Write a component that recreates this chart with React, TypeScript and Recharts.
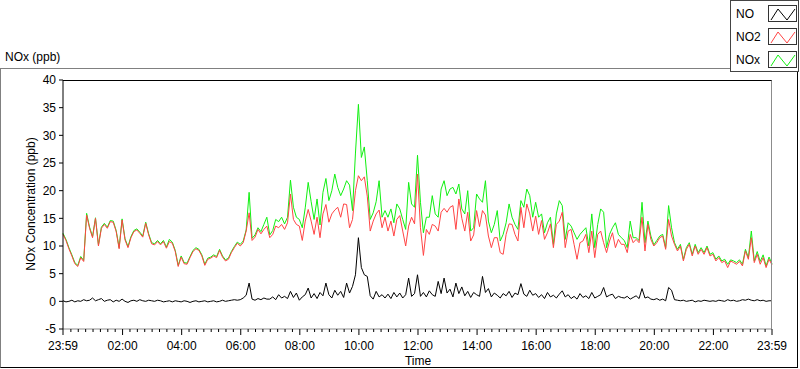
import { LineChart, Line, XAxis, YAxis } from 'recharts';

// one reading every 6 minutes, starting at 23:59
const NO = [
  0.1, -0.1, 0.0, 0.2, -0.1, 0.1, 0.0, 0.3, 0.1, 0.2,
  0.6, 0.1, 0.3, 0.5, 0.0, 0.2, 0.3, -0.1, 0.2, 0.0,
  0.4, 0.0, -0.2, 0.1, 0.2, 0.0, 0.3, 0.1, 0.0, 0.2,
  0.1, 0.0, 0.2, 0.1, -0.1, 0.0, 0.1, -0.1, 0.1, 0.0,
  -0.1, 0.1, 0.0, -0.2, 0.0, 0.1, -0.1, 0.0, 0.1, -0.1,
  0.0, 0.1, -0.1, 0.0, 0.2, 0.0, 0.1, 0.2, 0.3, 0.2,
  0.3, 0.6, 1.1, 3.3, 0.4, 0.2, 0.5, 0.3, 0.6, 0.4,
  0.4, 0.8, 0.3, 1.2, 0.6, 0.9, 0.5, 1.8, 0.7, 1.5,
  0.2, 0.8, 1.2, 2.4, 0.6, 1.4, 0.5, 1.6, 1.0, 3.3,
  1.2, 0.6, 2.0, 1.1, 1.8, 0.7, 3.3, 1.5, 2.7, 4.8,
  11.5, 6.1, 4.8, 4.5, 1.0, 0.4, 1.8, 0.8, 1.2, 0.6,
  1.3, 0.5, 1.6, 0.8, 1.5, 0.6, 1.2, 4.2, 0.9, 1.4,
  4.8, 0.9, 1.6, 0.8, 1.9, 1.2, 0.9, 3.6, 1.4, 4.2,
  1.5, 2.2, 0.8, 3.3, 1.4, 2.6, 1.0, 1.8, 0.7, 1.6,
  1.2, 0.9, 4.5, 1.6, 2.3, 0.8, 1.5, 1.1, 0.6, 1.4,
  1.0, 1.8, 0.7, 1.5, 1.2, 3.2, 1.3, 0.9, 2.0, 1.1,
  1.4, 0.7, 1.2, 0.5, 1.6, 0.8, 1.1, 0.6, 1.3, 1.9,
  0.8, 1.2, 0.5, 0.9, 0.4, 1.4, 0.7, 1.0, 0.5, 1.6,
  0.6, 0.9, 1.2, 2.5, 0.8, 1.1, 1.3, 0.5, 0.9, 0.7,
  0.6, 0.9, 0.4, 0.7, 1.0, 0.5, 2.3, 0.6, 0.8, 0.4,
  0.3, 0.5, 0.2, 0.4, 0.1, 2.5, 2.0, 0.3, 0.2, 0.1,
  0.2, 0.0, 0.1, 0.2, -0.1, 0.1, 0.0, 0.2, 0.1, 0.0,
  0.1, 0.0, 0.2, 0.1, 0.0, 0.3, 0.1, 0.2, 0.0, 0.1,
  0.3, 0.2, 0.4, 0.2, 0.1, 0.3, 0.1, 0.2, 0.0, 0.1, 0.1
];

const NO2 = [
  12.1, 11.0, 9.5, 8.2, 6.8, 6.3, 7.9, 7.2, 15.6, 13.2,
  11.5, 15.0, 10.0, 13.2, 13.9, 13.2, 14.4, 14.3, 12.6, 9.5,
  14.7, 11.1, 9.7, 11.5, 12.6, 12.9, 12.3, 11.6, 14.1, 12.0,
  10.4, 10.2, 10.8, 10.2, 10.8, 9.6, 10.8, 10.5, 9.0, 6.3,
  8.0, 6.8, 6.7, 7.9, 9.0, 9.5, 9.2, 8.2, 6.5, 7.6,
  7.8, 8.2, 7.9, 9.2, 8.0, 7.3, 7.6, 8.8, 9.7, 10.5,
  10.0, 10.6, 12.7, 16.0, 11.0, 11.6, 13.0, 12.2, 13.0, 13.6,
  11.5, 12.1, 13.6, 13.3, 13.9, 13.0, 14.2, 19.4, 14.8, 13.9,
  13.6, 11.0, 14.5, 16.6, 14.5, 12.1, 15.2, 11.5, 15.8, 17.5,
  14.3, 15.8, 16.5, 17.0, 15.2, 17.6, 17.5, 13.3, 14.8, 20.0,
  22.7, 21.8, 22.5, 19.0, 12.7, 14.5, 15.8, 16.5, 13.3, 15.2,
  12.7, 14.5, 11.8, 14.8, 15.5, 12.7, 10.0, 13.6, 15.2, 14.0,
  23.0, 13.3, 8.3, 13.0, 12.1, 13.9, 13.6, 12.7, 16.1, 16.8,
  16.1, 17.0, 17.3, 13.0, 18.5, 15.0, 12.7, 16.1, 10.9, 12.0,
  16.4, 13.5, 16.4, 15.6, 11.8, 9.7, 11.5, 11.5, 8.8, 8.5,
  12.1, 14.0, 13.9, 12.1, 10.9, 17.0, 13.3, 17.6, 15.8, 12.7,
  15.4, 12.1, 14.6, 11.2, 12.4, 14.0, 9.7, 13.9, 14.5, 16.1,
  9.7, 12.7, 13.0, 10.3, 7.6, 10.6, 10.9, 12.1, 8.8, 12.7,
  7.9, 12.1, 12.7, 10.6, 8.8, 10.9, 12.4, 9.7, 11.2, 10.3,
  10.3, 8.8, 12.1, 10.6, 11.2, 10.6, 15.2, 9.1, 13.9, 11.2,
  10.0, 10.6, 11.5, 11.8, 9.4, 14.8, 11.8, 10.3, 9.1, 10.0,
  7.3, 9.4, 10.3, 8.2, 10.0, 8.5, 9.4, 8.5, 9.7, 8.2,
  8.5, 7.3, 7.9, 7.0, 7.3, 6.1, 7.3, 7.0, 6.7, 7.2,
  6.4, 9.1, 7.6, 11.5, 7.0, 8.5, 6.7, 7.9, 6.1, 7.6, 6.6
];

const NOX = [
  12.3, 11.2, 9.7, 8.4, 7.0, 6.5, 8.1, 7.4, 15.9, 13.4,
  11.7, 15.1, 10.2, 13.4, 14.1, 13.4, 14.6, 14.5, 12.8, 9.7,
  14.9, 11.3, 9.9, 11.7, 12.8, 13.1, 12.5, 11.8, 14.3, 12.2,
  10.6, 10.4, 11.0, 10.4, 11.0, 9.8, 11.2, 10.7, 9.2, 6.5,
  8.2, 7.0, 6.9, 8.1, 9.2, 9.7, 9.4, 8.4, 6.7, 7.8,
  8.0, 8.4, 8.1, 9.4, 8.2, 7.5, 7.8, 9.0, 9.9, 10.7,
  10.3, 10.9, 12.9, 19.7, 11.4, 12.0, 13.3, 12.6, 13.9, 15.2,
  12.0, 12.8, 14.8, 14.4, 15.2, 14.0, 15.2, 21.9, 17.0, 15.2,
  14.8, 13.3, 16.9, 21.5, 18.0, 14.8, 18.5, 13.8, 19.7, 22.2,
  18.2, 20.0, 23.0, 20.6, 19.1, 20.3, 21.8, 21.0, 16.4, 26.8,
  35.6, 26.0, 27.9, 21.8, 14.8, 16.0, 18.0, 21.8, 15.2, 16.4,
  15.2, 16.7, 14.2, 17.6, 16.7, 14.8, 13.0, 21.5, 17.6, 17.0,
  26.4, 17.9, 12.4, 15.2, 15.2, 19.1, 15.8, 15.2, 20.3, 21.8,
  19.1, 20.3, 20.6, 19.4, 21.2, 16.7, 15.8, 20.0, 12.7, 13.3,
  19.4, 18.5, 17.9, 21.8, 14.5, 12.4, 13.9, 16.4, 10.9, 12.1,
  14.2, 17.6, 15.2, 13.9, 13.0, 18.2, 17.0, 20.3, 19.1, 15.2,
  17.9, 15.2, 15.8, 12.4, 14.2, 15.2, 10.3, 15.8, 18.2, 17.3,
  11.2, 14.2, 13.6, 12.4, 11.2, 12.1, 12.7, 13.3, 10.0, 15.8,
  9.7, 13.9, 16.7, 16.1, 9.7, 12.1, 13.3, 14.2, 12.1, 11.5,
  11.0, 9.7, 14.5, 11.5, 11.5, 11.0, 17.9, 10.6, 14.5, 11.8,
  10.2, 11.0, 11.8, 12.1, 9.7, 17.3, 13.3, 10.6, 9.4, 10.3,
  7.6, 9.7, 10.6, 8.5, 10.3, 8.8, 9.7, 8.8, 10.0, 8.5,
  8.8, 7.6, 8.2, 7.3, 7.6, 6.7, 7.5, 7.3, 7.0, 7.5,
  6.7, 9.4, 7.9, 12.7, 7.3, 9.0, 7.2, 8.4, 6.4, 8.0, 6.8
];

const TIME_LABELS = ['23:59', '02:00', '04:00', '06:00', '08:00', '10:00', '12:00', '14:00', '16:00', '18:00', '20:00', '22:00', '23:59'];
const MAJOR_TICKS = TIME_LABELS.map((_, i) => (i === 0 ? -1 : i === TIME_LABELS.length - 1 ? 1439 : i * 120));
const MINOR_TICKS: number[] = [];
for (let m = 15; m < 1439; m += 15) if (m % 120 !== 0) MINOR_TICKS.push(m);
const X_TICKS = [...MAJOR_TICKS, ...MINOR_TICKS].sort((a, b) => a - b);
const Y_TICKS = [-5, 0, 5, 10, 15, 20, 25, 30, 35, 40];

const data = NO2.map((v, i) => ({ t: i * 6 - 1, no: NO[i], no2: v, nox: NOX[i] }));

const FONT = '"Liberation Sans", Arial, sans-serif';
const RED = '#ff4444';
const GREEN = '#11f011';

const TimeTick = (props: any) => {
  const { x, y, payload } = props;
  const idx = MAJOR_TICKS.indexOf(payload.value);
  const major = idx >= 0;
  return (
    <g>
      <line x1={x} y1={y} x2={x} y2={y + (major ? 6 : 3)} stroke="#000" />
      {major && (
        <text x={x} y={y + 21} textAnchor="middle" fontSize={12} fill="#000" fontFamily={FONT}>
          {TIME_LABELS[idx]}
        </text>
      )}
    </g>
  );
};

const Swatch = ({ color }: { color: string }) => (
  <svg width={29} height={17} style={{ position: 'absolute', left: 32, top: 0, border: '1px solid #333', boxSizing: 'border-box', background: '#fff' }}>
    <polyline points="2,14 9,3 18,14 26,3" fill="none" stroke={color} strokeWidth={1} />
  </svg>
);

const legendItems = [
  { name: 'NO', color: '#000' },
  { name: 'NO2', color: RED },
  { name: 'NOx', color: GREEN }
];

export default function App() {
  return (
    <div style={{ position: 'fixed', left: 0, top: 0, width: 800, height: 369, background: '#fff', fontFamily: FONT, color: '#000', overflow: 'hidden' }}>
      {/* outer frame */}
      <div style={{ position: 'absolute', left: 0, top: 68, width: 798, height: 300, borderTop: '1px solid #808080', borderLeft: '1px solid #808080', borderRight: '1px solid #000', borderBottom: '1px solid #000', boxSizing: 'border-box' }} />
      <div style={{ position: 'absolute', left: 5, top: 50, fontSize: 12, lineHeight: '14px' }}>NOx (ppb)</div>

      {/* legend */}
      <div style={{ position: 'absolute', left: 730, top: 0, width: 69, height: 72, background: '#fff', border: '1px solid #444', boxSizing: 'border-box' }}>
        {legendItems.map((it, i) => (
          <div key={it.name} style={{ position: 'absolute', left: 5, top: 4 + i * 23, height: 17, width: 62 }}>
            <span style={{ position: 'absolute', left: 0, top: 2, fontSize: 12, lineHeight: '14px' }}>{it.name}</span>
            <Swatch color={it.color} />
          </div>
        ))}
      </div>

      <div style={{ position: 'absolute', left: 0, top: 0 }}>
        <LineChart width={800} height={369} data={data} margin={{ top: 80, right: 28, bottom: 10, left: 8 }}>
          <XAxis
            dataKey="t"
            type="number"
            domain={[-1, 1439]}
            ticks={X_TICKS}
            interval={0}
            tick={<TimeTick />}
            tickLine={false}
            tickSize={0}
            tickMargin={0}
            axisLine={{ stroke: '#8c8c8c' }}
            height={30}
          />
          <YAxis
            type="number"
            domain={[-5, 40]}
            ticks={Y_TICKS}
            interval={0}
            width={55}
            tickSize={4}
            tickMargin={3}
            axisLine={{ stroke: '#000' }}
            tickLine={{ stroke: '#000' }}
            tick={{ fontSize: 12, fill: '#000', fontFamily: FONT }}
          />
          <Line type="linear" dataKey="nox" stroke={GREEN} strokeWidth={1} dot={false} isAnimationActive={false} />
          <Line type="linear" dataKey="no2" stroke={RED} strokeWidth={1} dot={false} isAnimationActive={false} />
          <Line type="linear" dataKey="no" stroke="#000" strokeWidth={1} dot={false} isAnimationActive={false} />
        </LineChart>
      </div>

      {/* plot border top / right */}
      <div style={{ position: 'absolute', left: 63, top: 80, width: 709, height: 249, borderTop: '1px solid #000', borderRight: '1px solid #8c8c8c', boxSizing: 'border-box', pointerEvents: 'none' }} />

      <div style={{ position: 'absolute', left: 31, top: 204, width: 0, height: 0 }}>
        <div style={{ position: 'absolute', transform: 'translate(-50%, -50%) rotate(-90deg)', whiteSpace: 'nowrap', fontSize: 12, lineHeight: '14px' }}>
          NOx Concentration (ppb)
        </div>
      </div>
      <div style={{ position: 'absolute', left: 418, top: 354, transform: 'translateX(-50%)', fontSize: 12, lineHeight: '14px' }}>Time</div>
    </div>
  );
}
